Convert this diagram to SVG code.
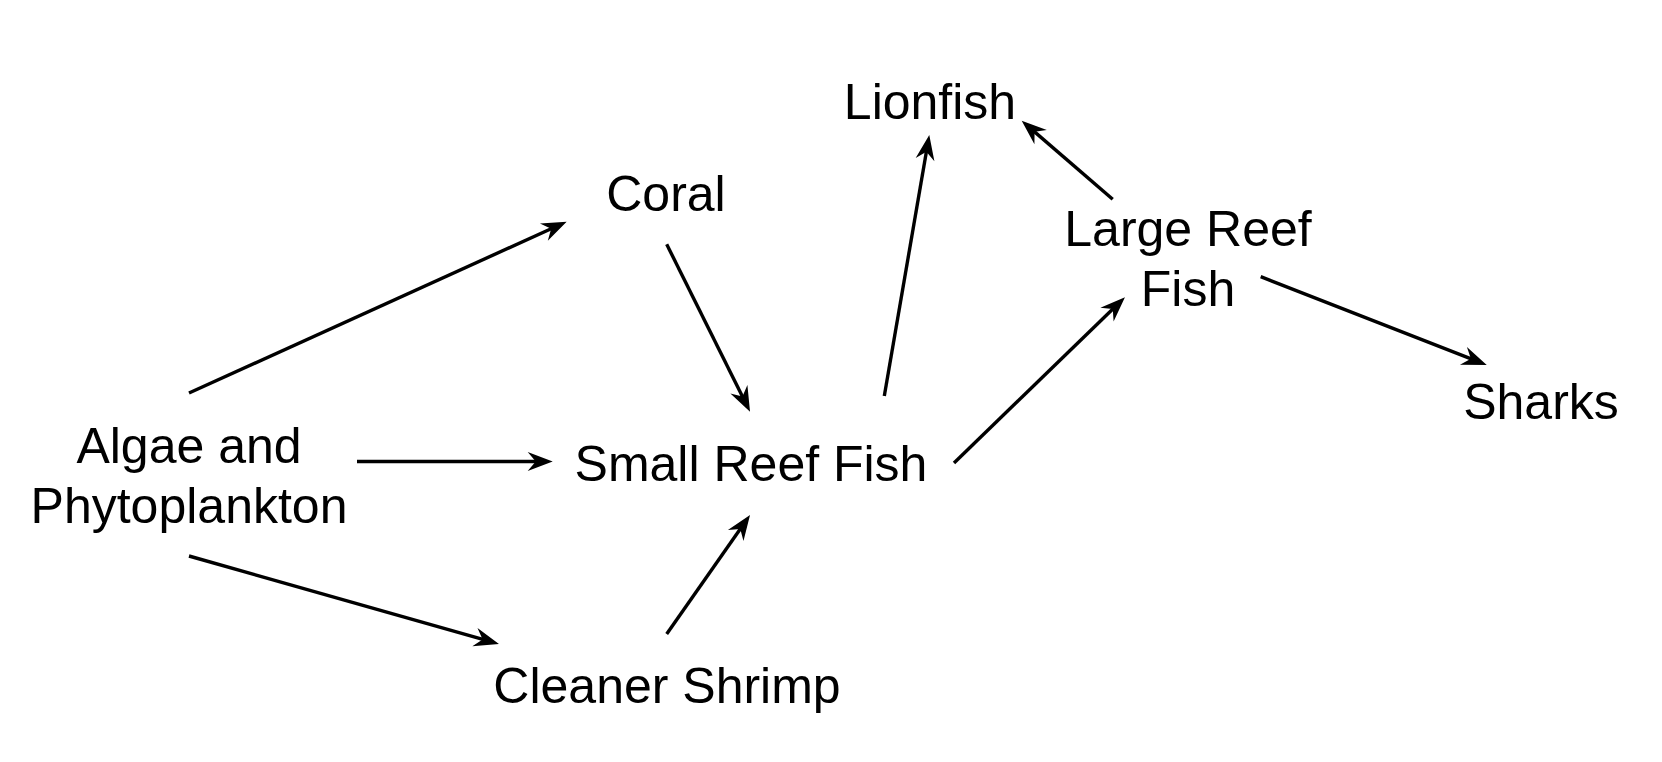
<svg xmlns="http://www.w3.org/2000/svg" width="1662" height="762" viewBox="0 0 1662 762">
<style>
text{font-family:"Liberation Sans",Arial,sans-serif;font-size:50px;fill:#000;text-anchor:middle}
.e{stroke:#000;stroke-width:3.4;fill:none;marker-end:url(#ah)}
</style>
<defs>
<marker id="ah" markerUnits="userSpaceOnUse" markerWidth="30" markerHeight="22" refX="12" refY="10" orient="auto" overflow="visible">
<path d="M26,10 L1,0.5 L9,10 L1,19.5 Z" fill="#000"/>
</marker>
</defs>
<rect width="1662" height="762" fill="#fff"/>
<g id="connectors">
<line class="e" x1="189" y1="393" x2="553.9" y2="227.5"/>
<line class="e" x1="666.7" y1="244.3" x2="743.8" y2="399.2"/>
<line class="e" x1="357" y1="461.5" x2="538.7" y2="461.5"/>
<line class="e" x1="189" y1="556" x2="485.5" y2="640.2"/>
<line class="e" x1="666.7" y1="634" x2="742" y2="526.5"/>
<line class="e" x1="884.3" y1="396" x2="926.9" y2="148.8"/>
<line class="e" x1="954" y1="463" x2="1114.9" y2="307"/>
<line class="e" x1="1112.7" y1="199.3" x2="1032.3" y2="129.9"/>
<line class="e" x1="1260.7" y1="276.7" x2="1473.7" y2="359.9"/>
</g>
<g id="algae"><text x="189" y="462.5">Algae and</text><text x="189" y="522.5">Phytoplankton</text></g>
<g id="coral"><text x="666" y="211">Coral</text></g>
<g id="small-reef-fish"><text x="751" y="481">Small Reef Fish</text></g>
<g id="cleaner-shrimp"><text x="667" y="703">Cleaner Shrimp</text></g>
<g id="lionfish"><text x="930" y="119">Lionfish</text></g>
<g id="large-reef-fish"><text x="1188" y="246">Large Reef</text><text x="1188" y="306">Fish</text></g>
<g id="sharks"><text x="1541" y="419">Sharks</text></g>
</svg>
